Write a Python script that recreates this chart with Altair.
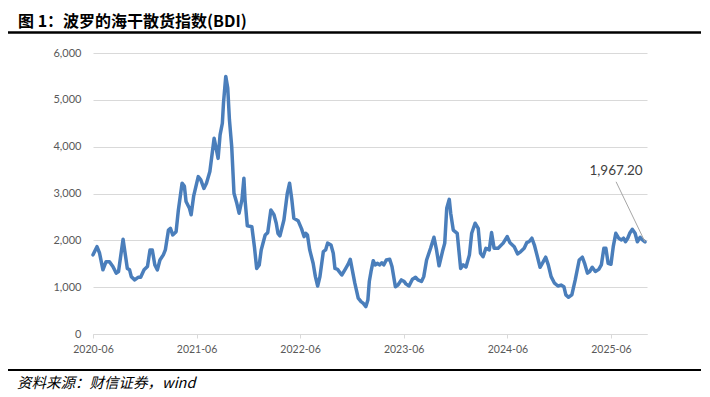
import altair as alt
import pandas as pd

dates = [
    "2020-06-01", "2020-06-15", "2020-06-24", "2020-07-06", "2020-07-17", "2020-07-29",
    "2020-08-10", "2020-08-22", "2020-08-30", "2020-09-15", "2020-09-30", "2020-10-08",
    "2020-10-14", "2020-10-26", "2020-11-07", "2020-11-16", "2020-11-28", "2020-12-10",
    "2020-12-19", "2020-12-27", "2021-01-05", "2021-01-14", "2021-01-23", "2021-02-04",
    "2021-02-11", "2021-02-22", "2021-03-01", "2021-03-09", "2021-03-21", "2021-03-29",
    "2021-04-11", "2021-04-19", "2021-04-25", "2021-05-07", "2021-05-13", "2021-05-22",
    "2021-06-07", "2021-06-16", "2021-06-27", "2021-07-06", "2021-07-18", "2021-08-02",
    "2021-08-08", "2021-08-16", "2021-08-23", "2021-08-31", "2021-09-04", "2021-09-12",
    "2021-09-19", "2021-09-25", "2021-10-03", "2021-10-11", "2021-10-21", "2021-10-29",
    "2021-11-08", "2021-11-15", "2021-11-19", "2021-11-27", "2021-12-13", "2021-12-22",
    "2021-12-30", "2022-01-08", "2022-01-15", "2022-01-29", "2022-02-07", "2022-02-18",
    "2022-03-01", "2022-03-09", "2022-03-15", "2022-03-22", "2022-04-05", "2022-04-17",
    "2022-04-25", "2022-05-03", "2022-05-10", "2022-05-25", "2022-06-06", "2022-06-15",
    "2022-06-21", "2022-06-27", "2022-07-05", "2022-07-17", "2022-07-25", "2022-08-02",
    "2022-08-10", "2022-08-22", "2022-08-30", "2022-09-06", "2022-09-18", "2022-09-26",
    "2022-10-02", "2022-10-11", "2022-10-26", "2022-11-06", "2022-11-18", "2022-11-25",
    "2022-12-02", "2022-12-11", "2022-12-23", "2023-01-02", "2023-01-10", "2023-01-19",
    "2023-01-26", "2023-01-31", "2023-02-06", "2023-02-14", "2023-02-21", "2023-02-28",
    "2023-03-08", "2023-03-16", "2023-03-23", "2023-04-01", "2023-04-13", "2023-04-21",
    "2023-05-03", "2023-05-12", "2023-05-24", "2023-06-03", "2023-06-09", "2023-06-20",
    "2023-07-02", "2023-07-13", "2023-07-22", "2023-08-03", "2023-08-11", "2023-08-21",
    "2023-09-04", "2023-09-16", "2023-09-25", "2023-10-04", "2023-10-16", "2023-10-24",
    "2023-10-31", "2023-11-09", "2023-11-14", "2023-11-23", "2023-12-07", "2023-12-19",
    "2023-12-28", "2024-01-07", "2024-01-19", "2024-01-27", "2024-02-08", "2024-02-19",
    "2024-02-27", "2024-03-07", "2024-03-17", "2024-03-29", "2024-04-06", "2024-04-15",
    "2024-04-29", "2024-05-17", "2024-05-31", "2024-06-10", "2024-06-25", "2024-07-07",
    "2024-07-18", "2024-07-30", "2024-08-08", "2024-08-16", "2024-08-26", "2024-09-04",
    "2024-09-13", "2024-09-24", "2024-10-02", "2024-10-14", "2024-10-23", "2024-11-02",
    "2024-11-14", "2024-11-26", "2024-12-07", "2024-12-17", "2024-12-24", "2025-01-02",
    "2025-01-14", "2025-01-26", "2025-02-09", "2025-02-20", "2025-02-28", "2025-03-10",
    "2025-03-18", "2025-03-27", "2025-04-07", "2025-04-19", "2025-04-28", "2025-05-07",
    "2025-05-14", "2025-05-22", "2025-06-01", "2025-06-09", "2025-06-18", "2025-06-28",
    "2025-07-08", "2025-07-15", "2025-07-22", "2025-07-30", "2025-08-06", "2025-08-15",
    "2025-08-25", "2025-09-02", "2025-09-12", "2025-09-20", "2025-09-29",
]

bdi = [
    1690, 1865, 1730, 1370, 1545, 1545,
    1440, 1300, 1335, 2025, 1400, 1370,
    1225, 1155, 1210, 1210, 1370, 1440,
    1795, 1795, 1475, 1370, 1580, 1690,
    1795, 2220, 2255, 2115, 2185, 2650,
    3220, 3160, 2830, 2685, 2545, 2950,
    3360, 3290, 3110, 3220, 3470, 4180,
    4000, 3750, 4250, 4500, 4930, 5500,
    5250, 4570, 4000, 3005, 2790, 2580,
    2865, 3325, 2865, 2310, 2290, 1865,
    1400, 1475, 1795, 2115, 2165, 2650,
    2545, 2365, 2150, 2095, 2435, 3005,
    3220, 2865, 2470, 2420, 2250, 2080,
    2150, 2115, 1795, 1510, 1225, 1025,
    1225, 1760, 1795, 1940, 1900, 1725,
    1400, 1380, 1260, 1370, 1495, 1595,
    1370, 1085, 765, 690, 655, 585,
    725, 1120, 1330, 1565, 1475, 1510,
    1475, 1520, 1475, 1580, 1595, 1440,
    1010, 1045, 1155, 1120, 1070, 1025,
    1170, 1210, 1155, 1120, 1225, 1580,
    1830, 2065, 1795, 1455, 1760, 1940,
    2685, 2875, 2580, 2220, 2150, 1400,
    1475, 1430, 1690, 2150, 2365, 2255,
    1725, 1650, 1830, 1795, 2165, 1830,
    1830, 1940, 2080, 1950, 1865, 1710,
    1760, 1830, 1950, 1970, 2045, 1900,
    1690, 1425, 1510, 1640, 1475, 1225,
    1085, 1025, 1045, 1010, 835, 785,
    835, 1155, 1580, 1640, 1510, 1300,
    1335, 1425, 1335, 1380, 1475, 1830,
    1830, 1510, 1490, 1865, 2150, 2045,
    2010, 2045, 1970, 2045, 2150, 2235,
    2150, 1970, 2065, 2010, 1967.2,
]

assert len(dates) == len(bdi)

y_ticks = [0, 1000, 2000, 3000, 4000, 5000, 6000]
x_tick_years = [2020, 2021, 2022, 2023, 2024, 2025]

title_text = "图 1：波罗的海干散货指数(BDI)"
source_text = "资料来源：财信证券，wind"
last_label = "1,967.20"
label_date = "2025-06-19"
label_value = 3490
leader_value = 3250

df = pd.DataFrame({"date": dates, "value": bdi})

W, H = 554, 281
PAD_L, PAD_T = 85, 45
PAD_R = 710 - 16 - PAD_L - W
PAD_B = 397 - 8 - PAD_T - H


def px(page_x):
    return page_x - 8 - PAD_L


def py(page_y):
    return page_y - 8 - PAD_T


x_scale = alt.Scale(
    type="utc",
    domain=[alt.DateTime(year=2020, month=6, date=1, utc=True),
            alt.DateTime(year=2025, month=10, date=6, utc=True)],
)
y_scale = alt.Scale(domain=[0, 6000], nice=False)

x_axis = alt.Axis(
    values=[alt.DateTime(year=yy, month=6, date=1, utc=True) for yy in x_tick_years],
    labelExpr="utcFormat(datum.value, '%Y-%m')", title=None, grid=False,
    domainColor="#d9d9d9", domainWidth=1, tickColor="#d9d9d9", tickSize=4,
    labelColor="#595959", labelFont="Lato", labelFontSize=10.5, labelPadding=6,
    labelAngle=0, labelFlush=False, labelOverlap=False, labelAlign="center",
)
y_axis = alt.Axis(
    values=y_ticks, format=",.0f", title=None, domain=False, ticks=False,
    grid=True, gridColor="#d9d9d9", gridWidth=1,
    labelColor="#595959", labelFont="Lato", labelFontSize=11, labelPadding=12,
)

line = alt.Chart(df).mark_line(
    color="#4a7ebb", strokeWidth=3.5, strokeJoin="round", strokeCap="round"
).encode(
    x=alt.X("date:T", scale=x_scale, axis=x_axis),
    y=alt.Y("value:Q", scale=y_scale, axis=y_axis),
)

ann_df = pd.DataFrame({
    "d1": [label_date], "v1": [leader_value],
    "d2": [dates[-1]], "v2": [bdi[-1]],
    "dl": [label_date], "vl": [label_value], "txt": [last_label],
})

leader = alt.Chart(ann_df).mark_rule(color="#a6a6a6", strokeWidth=1).encode(
    x="d1:T", y="v1:Q", x2="d2:T", y2="v2:Q",
)
ann_text = alt.Chart(ann_df).mark_text(
    font="Lato", fontSize=13.5, color="#404040", align="center", baseline="middle"
).encode(x="dl:T", y="vl:Q", text="txt:N")

deco_df = pd.DataFrame({"title": [title_text], "source": [source_text]})

title = alt.Chart(deco_df).mark_text(
    font="Noto Sans CJK SC", fontSize=16, fontWeight="bold", color="#000000",
    align="left", baseline="middle",
).encode(x=alt.value(px(18)), y=alt.value(py(22)), text="title:N")

title_rule = alt.Chart(deco_df).mark_rule(color="#000000", strokeWidth=2.5).encode(
    x=alt.value(px(8)), x2=alt.value(px(701)), y=alt.value(py(32.5)),
)
foot_rule = alt.Chart(deco_df).mark_rule(color="#000000", strokeWidth=2).encode(
    x=alt.value(px(8)), x2=alt.value(px(701)), y=alt.value(py(370)),
)
foot = alt.Chart(deco_df).mark_text(
    font="Noto Sans CJK SC", fontSize=14.5, fontStyle="italic", color="#000000",
    align="left", baseline="middle",
).encode(x=alt.value(px(17)), y=alt.value(py(384)), text="source:N")

chart = alt.layer(line, leader, ann_text, title, title_rule, foot_rule, foot).properties(
    width=W, height=H,
    autosize=alt.AutoSizeParams(type="none"),
    padding={"left": PAD_L, "top": PAD_T, "right": PAD_R, "bottom": PAD_B},
    background="#ffffff",
).configure_view(stroke=None)

chart.save("out.html", embed_options={"renderer": "svg", "actions": False})
